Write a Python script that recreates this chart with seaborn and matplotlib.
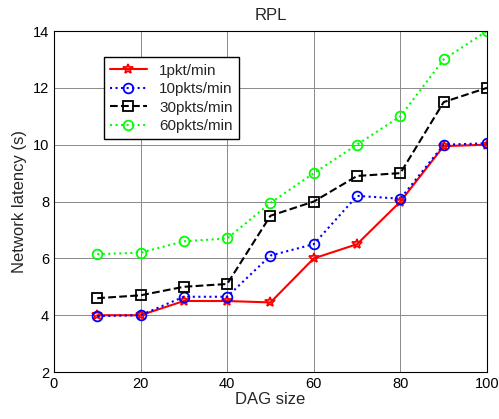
import seaborn as sns
import matplotlib.pyplot as plt
import pandas as pd

dag_size = [10, 20, 30, 40, 50, 60, 70, 80, 90, 100]
lat_1 = [4.0, 4.0, 4.5, 4.5, 4.45, 6.0, 6.5, 8.0, 9.95, 10.0]
lat_10 = [3.97, 4.0, 4.65, 4.65, 6.1, 6.5, 8.2, 8.1, 10.0, 10.05]
lat_30 = [4.6, 4.7, 5.0, 5.1, 7.5, 8.0, 8.9, 9.0, 11.5, 12.0]
lat_60 = [6.15, 6.2, 6.6, 6.7, 7.95, 9.0, 10.0, 11.0, 13.0, 14.0]
labels = ['1pkt/min', '10pkts/min', '30pkts/min', '60pkts/min']

sns.set_style('white')
plt.rcParams['font.family'] = ['Liberation Sans', 'DejaVu Sans']

fig = plt.figure(figsize=(4.99, 4.19), dpi=100)
ax = fig.add_axes([0.108, 0.112, 0.868, 0.814])

# estilo de cada serie (color, linea, marcador)
styles = [('red', '-', '*'), ('blue', ':', 'o'), ('black', '--', 's'), ('#00ff00', ':', 'o')]
for y, lab, (c, ls, m) in zip([lat_1, lat_10, lat_30, lat_60], labels, styles):
    df = pd.DataFrame({'x': dag_size, 'y': y})
    sns.lineplot(data=df, x='x', y='y', ax=ax, color=c, linestyle=ls, marker=m,
                 markersize=7, markerfacecolor='none', markeredgecolor=c,
                 markeredgewidth=1.3, linewidth=1.5, label=lab)

ax.set_xlim(0, 100)
ax.set_ylim(2, 14)
ax.set_xticks(range(0, 101, 20))
ax.set_yticks(range(2, 15, 2))
ax.grid(True, color='#8a8a8a', linewidth=0.7)
for s in ax.spines.values():
    s.set_color('black')
    s.set_linewidth(0.8)
ax.tick_params(direction='in', length=4, labelsize=10.5, colors='black')
ax.set_title('RPL', fontsize=12, pad=8)
ax.set_xlabel('DAG size', fontsize=12, labelpad=1)
ax.set_ylabel('Network latency (s)', fontsize=12)
leg = ax.legend(loc='upper left', bbox_to_anchor=(0.098, 0.945), fontsize=11,
                frameon=True, fancybox=False, framealpha=1, edgecolor='black',
                borderpad=0.4, handlelength=2.4, labelspacing=0.3)
leg.get_frame().set_linewidth(1.0)

plt.savefig('out.png', dpi=100)
